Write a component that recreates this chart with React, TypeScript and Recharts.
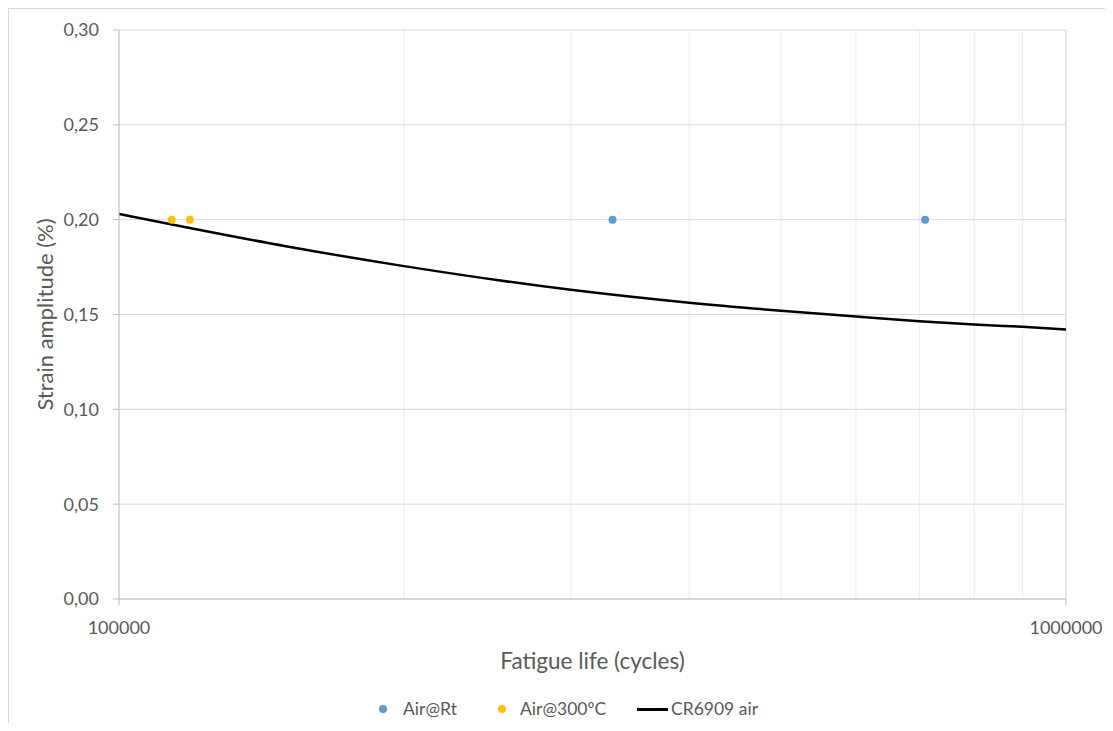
import { ComposedChart, Scatter, Line, XAxis, YAxis, CartesianGrid, ReferenceLine } from "recharts";

// measured points
const rtCycles = [332000, 710000];
const rtStrain = [0.2, 0.2];
const hotCycles = [113700, 118800];
const hotStrain = [0.2, 0.2];

// design curve
const curveCycles = [100000, 150000, 200000, 300000, 400000, 500000, 600000, 700000, 800000, 900000, 1000000];
const curveStrain = [0.203, 0.186, 0.1755, 0.163, 0.1562, 0.152, 0.149, 0.1465, 0.1447, 0.1435, 0.1421];

const majorTicks = [100000, 1000000];
const xTicks = [100000, 200000, 300000, 400000, 500000, 600000, 700000, 800000, 900000, 1000000];
const yTicks = [0, 0.05, 0.1, 0.15, 0.2, 0.25, 0.3];

const BLUE = "#5B9BD5";
const GOLD = "#FFC000";
const TEXT = "#595959";
const AXIS = "#bfbfbf";
const FONT = "Lato, 'Noto Sans', sans-serif";
const TICK_SIZE = 6;
const TICK_MARGIN = 16;

const toPoints = (xs: number[], ys: number[]) => xs.map((x, i) => ({ x, y: ys[i] }));
const rtData = toPoints(rtCycles, rtStrain);
const hotData = toPoints(hotCycles, hotStrain);
const curveData = toPoints(curveCycles, curveStrain);

const fmtY = (v: number) => v.toFixed(2).replace(".", ",");

const dot = (color: string) => (p: any) => <circle cx={p.cx} cy={p.cy} r={4} fill={color} />;

// only the decades get a label and a tick mark
const XTick = ({ x, y, payload }: any) => {
  if (!majorTicks.includes(payload.value)) return <g />;
  return (
    <g>
      <line x1={x} x2={x} y1={y - TICK_MARGIN - TICK_SIZE} y2={y - TICK_MARGIN} stroke={AXIS} />
      <text x={x} y={y} dy="0.71em" textAnchor="middle" fill={TEXT} fontSize={18} fontFamily={FONT}>
        {payload.value}
      </text>
    </g>
  );
};

// legend entries with their left offsets inside the legend box
const legendItems = [
  { name: "Air@Rt", color: BLUE, kind: "dot", mark: 0, label: 24 },
  { name: "Air@300ºC", color: GOLD, kind: "dot", mark: 119, label: 141 },
  { name: "CR6909 air", color: "#000", kind: "line", mark: 258, label: 292 },
];

export default function App() {
  return (
    <div
      style={{
        position: "relative",
        width: 1105,
        height: 715,
        boxSizing: "border-box",
        borderTop: "1px solid #d9d9d9",
        borderLeft: "1px solid #d9d9d9",
        fontFamily: FONT,
        background: "#fff",
      }}
    >
      <ComposedChart width={1104} height={714} margin={{ top: 21, right: 47, bottom: 44, left: 0 }}>
        <CartesianGrid horizontal={false} stroke="#ececec" />
        <CartesianGrid vertical={false} stroke="#d9d9d9" />
        <ReferenceLine x={1000000} stroke="#d9d9d9" />
        <XAxis
          dataKey="x"
          type="number"
          scale="log"
          domain={[100000, 1000000]}
          allowDataOverflow
          ticks={xTicks}
          interval={0}
          height={80}
          tickSize={TICK_SIZE}
          tickMargin={TICK_MARGIN}
          tickLine={false}
          stroke={AXIS}
          tick={<XTick />}
          label={{
            content: ({ viewBox }: any) => (
              <text
                x={viewBox.x + viewBox.width / 2}
                y={viewBox.y + 61}
                textAnchor="middle"
                dominantBaseline="central"
                fill={TEXT}
                fontSize={22.5}
                fontFamily={FONT}
              >
                Fatigue life (cycles)
              </text>
            ),
          }}
        />
        <YAxis
          type="number"
          domain={[0, 0.3]}
          ticks={yTicks}
          tickFormatter={fmtY}
          width={110}
          tickSize={6}
          tickMargin={14}
          stroke={AXIS}
          tick={{ fill: TEXT, fontSize: 18, fontFamily: FONT }}
          label={{
            content: ({ viewBox }: any) => {
              const cx = viewBox.x + 35;
              const cy = viewBox.y + viewBox.height / 2;
              return (
                <text
                  x={cx}
                  y={cy}
                  transform={`rotate(-90 ${cx} ${cy})`}
                  textAnchor="middle"
                  dominantBaseline="central"
                  fill={TEXT}
                  fontSize={22}
                  fontFamily={FONT}
                >
                  Strain amplitude (%)
                </text>
              );
            },
          }}
        />
        <Line
          data={curveData}
          dataKey="y"
          type="monotone"
          stroke="#000"
          strokeWidth={2.5}
          dot={false}
          activeDot={false}
          isAnimationActive={false}
        />
        <Scatter data={rtData} dataKey="y" fill={BLUE} shape={dot(BLUE)} isAnimationActive={false} />
        <Scatter data={hotData} dataKey="y" fill={GOLD} shape={dot(GOLD)} isAnimationActive={false} />
      </ComposedChart>

      <div style={{ position: "absolute", left: 370, top: 688, width: 420, height: 24, color: TEXT, fontSize: 17.5 }}>
        {legendItems.map((it) => (
          <div key={it.name}>
            {it.kind === "dot" ? (
              <span
                style={{
                  position: "absolute",
                  left: it.mark,
                  top: 8,
                  width: 8,
                  height: 8,
                  borderRadius: 4,
                  background: it.color,
                }}
              />
            ) : (
              <span style={{ position: "absolute", left: it.mark, top: 10.5, width: 31, height: 3, background: it.color }} />
            )}
            <span style={{ position: "absolute", left: it.label, top: 0, lineHeight: "24px", whiteSpace: "nowrap" }}>
              {it.name}
            </span>
          </div>
        ))}
      </div>
    </div>
  );
}
